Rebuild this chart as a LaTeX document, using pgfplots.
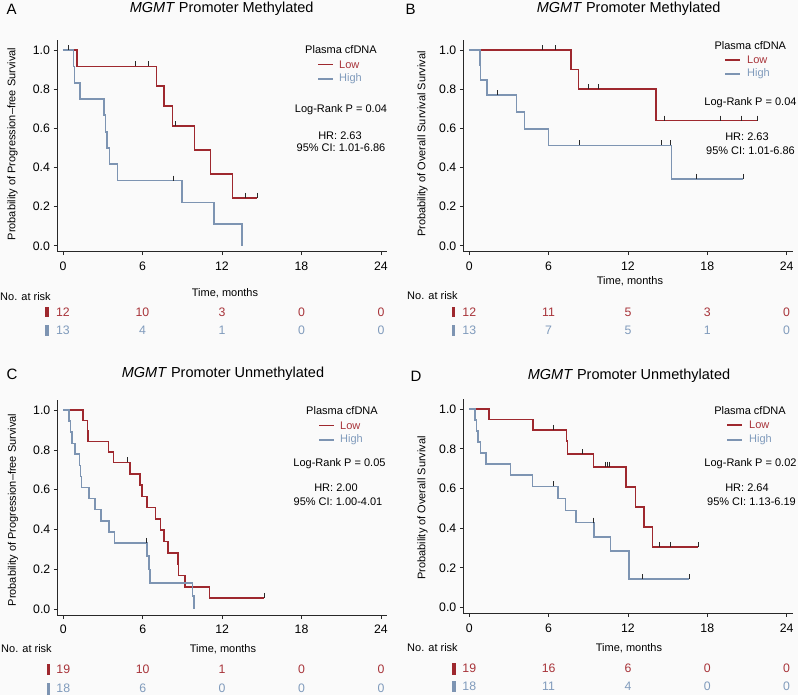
\documentclass[border=0pt]{standalone}
\usepackage{pgfplots}
\pgfplotsset{compat=1.18}
\usepackage{fontspec}
\setmainfont{Liberation Sans}
\definecolor{lowc}{RGB}{158,40,46}
\definecolor{highc}{RGB}{125,148,178}
\definecolor{lowt}{RGB}{168,52,58}
\definecolor{hight}{RGB}{128,155,188}
\definecolor{bgc}{RGB}{250,250,250}
\definecolor{axc}{RGB}{40,40,40}
\newcommand{\sm}{\fontsize{11}{13}\selectfont}
\newcommand{\tk}{\fontsize{12.3}{14}\selectfont}
\newcommand{\ttl}{\fontsize{14.5}{17}\selectfont}
\newcommand{\pl}{\fontsize{15}{18}\selectfont}
\pgfplotsset{
 km/.style={scale only axis, anchor=south west, clip=false,
   xmin=-0.45, xmax=24.45, ymin=-0.03, ymax=1.05,
   axis x line=bottom, axis y line=left,
   axis line style={-, line width=0.8pt, draw=axc},
   tick style={line width=0.8pt, draw=axc},
   tick align=outside, major tick length=3.5pt,
   xtick={0,6,12,18,24}, ytick={0,0.2,0.4,0.6,0.8,1},
   ticklabel style={font=\tk},
   /pgf/number format/assume math mode=true,
   yticklabel style={/pgf/number format/.cd, fixed, fixed zerofill, precision=1},
   xticklabel shift=3pt,
 },
 lowline/.style={const plot mark left, draw=lowc, line width=1.6pt, mark=none},
 highline/.style={const plot mark left, draw=highc, line width=1.6pt, mark=none},
 cens/.style={only marks, mark=|, mark size=2.5pt, mark options={yshift=2.5pt, line width=0.7pt, draw=axc}},
 risk/.style={draw=none, nodes near coords, point meta=explicit symbolic, nodes near coords style={anchor=center, font=\tk, text=#1}},
}
\begin{document}
\begin{tikzpicture}
\path[use as bounding box, fill=bgc] (0pt,0pt) rectangle (798pt,695pt);

%% ---------------- Panel A ----------------
\begin{axis}[km, at={(57pt,443.3pt)}, width=329.9pt, height=211.4pt]
\addplot[lowline] coordinates {(0,1) (1.08,0.917) (7.07,0.815) (7.62,0.713) (8.28,0.611) (9.94,0.489) (11.15,0.367) (12.81,0.245) (14.67,0.245)};
\addplot[highline] coordinates {(0,1) (0.81,0.917) (0.86,0.833) (1.28,0.75) (3.09,0.667) (3.2,0.583) (3.32,0.5) (3.52,0.417) (4.13,0.333) (8.98,0.222) (11.4,0.111) (13.5,0)};
\addplot[cens] coordinates {(5.48,0.917) (6.47,0.917) (8.5,0.611) (13.79,0.245) (14.67,0.245) (0.38,1) (8.35,0.333)};
\addplot[risk=lowt] table[meta=n] {
x y n
0 -0.338 12
6 -0.338 10
12 -0.338 3
18 -0.338 0
24 -0.338 0
};
\addplot[risk=hight] table[meta=n] {
x y n
0 -0.431 13
6 -0.431 4
12 -0.431 1
18 -0.431 0
24 -0.431 0
};
\end{axis}
\node[font=\pl, anchor=west] at (3pt,686pt) {A};
\node[font=\ttl] at (221.7pt,686pt) {\textit{MGMT} Promoter Methylated};
\node[font=\sm, rotate=90] at (12.5pt,551pt) {Probability of Progression--free Survival};
\node[font=\sm] at (341pt,645pt) {Plasma cfDNA};
\draw[lowc, line width=1.4pt] (318pt,630.3pt) -- (333pt,630.3pt);
\node[font=\sm, anchor=west, text=lowt, inner sep=0pt] at (339pt,630.3pt) {Low};
\draw[highc, line width=1.4pt] (318pt,616pt) -- (333pt,616pt);
\node[font=\sm, anchor=west, text=hight, inner sep=0pt] at (339pt,616pt) {High};
\node[font=\sm] at (341pt,585pt) {Log-Rank P = 0.04};
\node[font=\sm] at (340pt,559pt) {HR: 2.63};
\node[font=\sm] at (341pt,547pt) {95\% CI: 1.01-6.86};
\node[font=\sm] at (225pt,402pt) {Time, months};
\node[font=\sm, anchor=west, inner sep=0pt] at (0pt,398pt) {No. at risk};
\fill[lowc] (45.3pt,377.7pt) rectangle (48.7pt,387.7pt);
\fill[highc] (45.3pt,359pt) rectangle (48.7pt,370pt);

%% ---------------- Panel B ----------------
\begin{axis}[km, at={(463.35pt,443.3pt)}, width=329.2pt, height=211.4pt]
\addplot[lowline] coordinates {(0,1) (7.69,0.9) (8.27,0.8) (14.14,0.64) (21.78,0.64)};
\addplot[highline] coordinates {(0,1) (0.83,0.923) (0.86,0.846) (1.35,0.769) (3.58,0.684) (4.18,0.598) (6.0,0.513) (15.3,0.342) (20.7,0.342)};
\addplot[cens] coordinates {(5.55,1) (6.53,1) (9.02,0.8) (9.76,0.8) (14.72,0.64) (18.98,0.64) (20.54,0.64) (21.78,0.64) (2.14,0.769) (8.34,0.513) (14.5,0.513) (15.18,0.513) (17.2,0.342) (20.7,0.342)};
\addplot[risk=lowt] table[meta=n] {
x y n
0 -0.338 12
6 -0.338 11
12 -0.338 5
18 -0.338 3
24 -0.338 0
};
\addplot[risk=hight] table[meta=n] {
x y n
0 -0.431 13
6 -0.431 7
12 -0.431 5
18 -0.431 1
24 -0.431 0
};
\end{axis}
\node[font=\pl, anchor=west] at (402pt,686pt) {B};
\node[font=\ttl] at (628.7pt,686pt) {\textit{MGMT} Promoter Methylated};
\node[font=\sm, rotate=90] at (422.5pt,551pt) {Probability of Overall Survival Survival};
\node[font=\sm] at (750.3pt,649pt) {Plasma cfDNA};
\draw[lowc, line width=1.4pt] (725pt,635pt) -- (740pt,635pt);
\node[font=\sm, anchor=west, text=lowt, inner sep=0pt] at (747pt,635pt) {Low};
\draw[highc, line width=1.4pt] (725pt,621pt) -- (740pt,621pt);
\node[font=\sm, anchor=west, text=hight, inner sep=0pt] at (747pt,621pt) {High};
\node[font=\sm] at (750.5pt,592pt) {Log-Rank P = 0.04};
\node[font=\sm] at (747pt,558pt) {HR: 2.63};
\node[font=\sm] at (750.5pt,544pt) {95\% CI: 1.01-6.86};
\node[font=\sm] at (630pt,414pt) {Time, months};
\node[font=\sm, anchor=west, inner sep=0pt] at (407pt,399pt) {No. at risk};
\fill[lowc] (451.7pt,377.7pt) rectangle (455.3pt,387.7pt);
\fill[highc] (451.7pt,359pt) rectangle (455.3pt,370pt);

%% ---------------- Panel C ----------------
\begin{axis}[km, at={(57.3pt,79.7pt)}, width=329.6pt, height=215.2pt]
\addplot[lowline] coordinates {(0,1) (1.51,0.947) (1.82,0.895) (1.88,0.842) (3.42,0.789) (3.79,0.737) (5.03,0.680) (5.78,0.624) (5.97,0.567) (6.31,0.510) (6.96,0.454) (7.34,0.397) (7.59,0.340) (7.91,0.283) (8.65,0.227) (8.72,0.170) (9.2,0.113) (11.05,0.057) (15.17,0.057)};
\addplot[highline] coordinates {(0,1) (0.43,0.944) (0.55,0.889) (0.68,0.833) (0.88,0.778) (1.23,0.722) (1.31,0.667) (1.38,0.611) (1.96,0.556) (2.39,0.5) (2.86,0.444) (3.47,0.389) (3.87,0.333) (6.32,0.267) (6.48,0.2) (6.55,0.133) (9.75,0.067) (9.87,0)};
\addplot[cens] coordinates {(4.85,0.737) (15.17,0.057) (6.28,0.333)};
\addplot[risk=lowt] table[meta=n] {
x y n
0 -0.299 19
6 -0.299 10
12 -0.299 1
18 -0.299 0
24 -0.299 0
};
\addplot[risk=hight] table[meta=n] {
x y n
0 -0.395 18
6 -0.395 6
12 -0.395 0
18 -0.395 0
24 -0.395 0
};
\end{axis}
\node[font=\pl, anchor=west] at (3pt,321pt) {C};
\node[font=\ttl] at (223pt,321pt) {\textit{MGMT} Promoter Unmethylated};
\node[font=\sm, rotate=90] at (13pt,185pt) {Probability of Progression--free Survival};
\node[font=\sm] at (342pt,284pt) {Plasma cfDNA};
\draw[lowc, line width=1.4pt] (319pt,269.3pt) -- (334pt,269.3pt);
\node[font=\sm, anchor=west, text=lowt, inner sep=0pt] at (340pt,269.3pt) {Low};
\draw[highc, line width=1.4pt] (319pt,255pt) -- (334pt,255pt);
\node[font=\sm, anchor=west, text=hight, inner sep=0pt] at (340pt,255pt) {High};
\node[font=\sm] at (339.5pt,231pt) {Log-Rank P = 0.05};
\node[font=\sm] at (336pt,207pt) {HR: 2.00};
\node[font=\sm] at (338pt,193pt) {95\% CI: 1.00-4.01};
\node[font=\sm] at (223pt,46pt) {Time, months};
\node[font=\sm, anchor=west, inner sep=0pt] at (1pt,46pt) {No. at risk};
\fill[lowc] (46.7pt,19.7pt) rectangle (50pt,31pt);
\fill[highc] (46.7pt,0pt) rectangle (50pt,12.3pt);

%% ---------------- Panel D ----------------
\begin{axis}[km, at={(463.35pt,81.5pt)}, width=329.2pt, height=214.3pt]
\addplot[lowline] coordinates {(0,1) (1.51,0.947) (4.84,0.895) (7.36,0.839) (7.44,0.773) (9.38,0.709) (11.83,0.608) (12.56,0.507) (13.2,0.405) (13.87,0.304) (17.33,0.304)};
\addplot[highline] coordinates {(0,1) (0.45,0.944) (0.55,0.889) (0.68,0.833) (0.86,0.778) (1.26,0.722) (3.13,0.667) (4.79,0.611) (6.71,0.55) (7.29,0.489) (8.07,0.428) (9.41,0.357) (10.67,0.285) (12.1,0.143) (16.64,0.143)};
\addplot[cens] coordinates {(6.35,0.895) (8.52,0.773) (10.26,0.709) (10.42,0.709) (10.59,0.709) (14.37,0.304) (15.23,0.304) (17.33,0.304) (6.35,0.611) (9.38,0.428) (13.12,0.143) (16.64,0.143)};
\addplot[risk=lowt] table[meta=n] {
x y n
0 -0.305 19
6 -0.305 16
12 -0.305 6
18 -0.305 0
24 -0.305 0
};
\addplot[risk=hight] table[meta=n] {
x y n
0 -0.395 18
6 -0.395 11
12 -0.395 4
18 -0.395 0
24 -0.395 0
};
\end{axis}
\node[font=\pl, anchor=west] at (407pt,319pt) {D};
\node[font=\ttl] at (629pt,319pt) {\textit{MGMT} Promoter Unmethylated};
\node[font=\sm, rotate=90] at (422.5pt,187pt) {Probability of Overall Survival};
\node[font=\sm] at (750pt,284.3pt) {Plasma cfDNA};
\draw[lowc, line width=1.4pt] (727pt,270pt) -- (742pt,270pt);
\node[font=\sm, anchor=west, text=lowt, inner sep=0pt] at (749pt,270pt) {Low};
\draw[highc, line width=1.4pt] (727pt,255pt) -- (742pt,255pt);
\node[font=\sm, anchor=west, text=hight, inner sep=0pt] at (749pt,255pt) {High};
\node[font=\sm] at (750.5pt,231pt) {Log-Rank P = 0.02};
\node[font=\sm] at (747pt,207pt) {HR: 2.64};
\node[font=\sm] at (751.5pt,193pt) {95\% CI: 1.13-6.19};
\node[font=\sm] at (629pt,47pt) {Time, months};
\node[font=\sm, anchor=west, inner sep=0pt] at (407pt,47pt) {No. at risk};
\fill[lowc] (452pt,20pt) rectangle (455.7pt,31.7pt);
\fill[highc] (452pt,2.7pt) rectangle (455.7pt,14.3pt);
\end{tikzpicture}
\end{document}
